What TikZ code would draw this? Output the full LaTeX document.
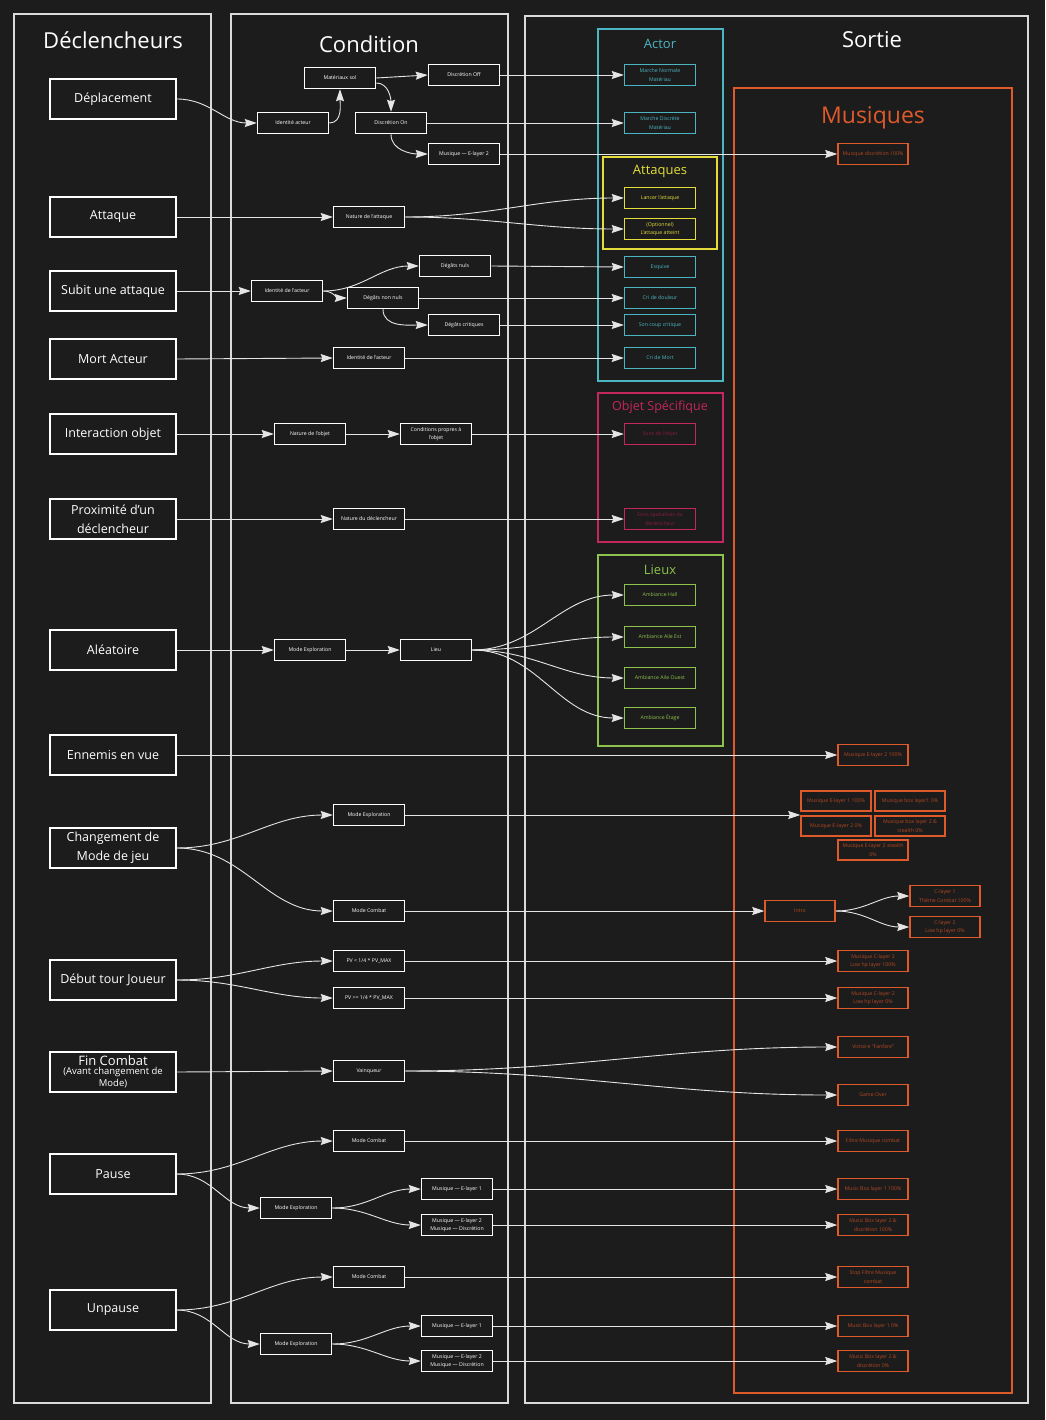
\documentclass[tikz,border=0pt]{standalone}
\usepackage{fontspec}
\setmainfont{Open Sans}
\usepackage{xcolor}
\usetikzlibrary{arrows.meta, positioning}
\definecolor{BgDark}{HTML}{1C1C1C}
\definecolor{PanelGrey}{HTML}{DADADA}
\definecolor{ActorCyan}{HTML}{4BB5C1}
\definecolor{HitYellow}{HTML}{E3DC3B}
\definecolor{ObjCrimson}{HTML}{C4265E}
\definecolor{PlaceGreen}{HTML}{8DC24C}
\definecolor{MusicOrange}{HTML}{DE5A2B}

\tikzset{
  panel/.style={draw=PanelGrey, line width=2pt},
  group/.style={draw=#1, line width=1.8pt},
  coltitle/.style={text=white, font=\fontsize{22}{24}\selectfont},
  grouptitle/.style={text=#1, font=\fontsize{13}{15}\selectfont},
  trig/.style={draw=white, line width=1.8pt, minimum width=126pt, minimum height=40pt,
               text=white, align=center, inner sep=2pt, font=\fontsize{12.5}{19}\selectfont},
  cond/.style={draw=white, line width=1.5pt, minimum width=71pt, minimum height=21pt,
               text=white, align=center, inner sep=1pt, font=\fontsize{5.2}{8.5}\selectfont},
  outbox/.style={cond, draw=#1, text=#1},
  mus/.style={outbox=MusicOrange, text=MusicOrange!80!black, minimum width=70pt},
  flow/.style={draw=white!90!black, line width=0.9pt,
               -{Stealth[length=12pt, width=8pt, inset=1.5pt]}},
}

\begin{document}
\begin{tikzpicture}[x=1pt, y=-1pt]
\fill[BgDark] (0,0) rectangle (1045,1420);
\useasboundingbox (0,0) rectangle (1045,1420);

% columns
\draw[panel] (14,14) rectangle (211,1403);
\draw[panel] (231,14) rectangle (508,1403);
\draw[panel] (525,16) rectangle (1028,1403);
\node[coltitle] (tDecl) at (113,40) {Déclencheurs};
\node[coltitle] (tCond) at (369,44) {Condition};
\node[coltitle] (tSortie) at (872,40) {Sortie};

% output groups
\draw[group=ActorCyan] (598,29) rectangle (723,381);
\draw[group=HitYellow] (603,157) rectangle (717,249);
\draw[group=ObjCrimson] (598,393) rectangle (723,542);
\draw[group=PlaceGreen] (598,555) rectangle (723,746);
\draw[group=MusicOrange] (734,88) rectangle (1012,1393);
\node[grouptitle=ActorCyan] (tActor) at (660,44) {Actor};
\node[grouptitle=HitYellow] (tAttaques) at (660,171) {Attaques};
\node[grouptitle=ObjCrimson, font=\fontsize{12.5}{15}\selectfont] (tObjet) at (660,407) {Objet Spécifique};
\node[grouptitle=PlaceGreen] (tLieux) at (660,570) {Lieux};
\node[grouptitle=MusicOrange, font=\fontsize{23}{25}\selectfont] (tMusiques) at (873,118) {Musiques};

% triggers
\node[trig] (deplacement) at (113,99) {Déplacement};
\node[trig] (attaque) at (113,217) {Attaque};
\node[trig] (subit) at (113,291) {Subit une attaque};
\node[trig] (mort) at (113,359) {Mort Acteur};
\node[trig] (interaction) at (113,434) {Interaction objet};
\node[trig] (proximite) at (113,519) {Proximité d'un\\déclencheur};
\node[trig] (aleatoire) at (113,650) {Aléatoire};
\node[trig] (ennemis) at (113,755) {Ennemis en vue};
\node[trig] (changement) at (113,848) {Changement de\\Mode de jeu};
\node[trig] (debut) at (113,980) {Début tour Joueur};
\node[trig, font=\fontsize{13}{19}\selectfont, inner sep=0pt] (fin) at (113,1072)
  {Fin Combat\\[-9.5pt]{\fontsize{9.5}{12}\selectfont (Avant changement de}\\[-7pt]{\fontsize{9.5}{12}\selectfont Mode)}};
\node[trig] (pause) at (113,1174) {Pause};
\node[trig] (unpause) at (113,1310) {Unpause};

% conditions
\node[cond] (idActeur) at (293,123) {Identité acteur};
\node[cond] (materiaux) at (340,78) {Matériaux sol};
\node[cond] (discOff) at (464,75) {Discrétion Off};
\node[cond] (discOn) at (391,123) {Discrétion On};
\node[cond] (musE2) at (464,154) {Musique — E-layer 2};
\node[cond] (natAttaque) at (369,217) {Nature de l'attaque};
\node[cond] (idSubit) at (287,291) {Identité de l'acteur};
\node[cond] (degNuls) at (455,266) {Dégâts nuls};
\node[cond] (degNonNuls) at (383,298) {Dégâts non nuls};
\node[cond] (degCrit) at (464,325) {Dégâts critiques};
\node[cond] (idMort) at (369,358) {Identité de l'acteur};
\node[cond] (natObjet) at (310,434) {Nature de l'objet};
\node[cond] (condObjet) at (436,434) {Conditions propres à\\l'objet};
\node[cond] (natDecl) at (369,519) {Nature du déclencheur};
\node[cond] (explAlea) at (310,650) {Mode Exploration};
\node[cond] (lieu) at (436,650) {Lieu};
\node[cond] (explChg) at (369,815) {Mode Exploration};
\node[cond] (combatChg) at (369,911) {Mode Combat};
\node[cond] (pvLow) at (369,961) {PV < 1/4 * PV\_MAX};
\node[cond] (pvHigh) at (369,998) {PV >= 1/4 * PV\_MAX};
\node[cond] (vainqueur) at (369,1071) {Vainqueur};
\node[cond] (combatP) at (369,1141) {Mode Combat};
\node[cond] (explP) at (296,1208) {Mode Exploration};
\node[cond] (eOneP) at (457,1189) {Musique — E-layer 1};
\node[cond] (eTwoP) at (457,1225) {Musique — E-layer 2\\Musique — Discrétion};
\node[cond] (combatU) at (369,1277) {Mode Combat};
\node[cond] (explU) at (296,1344) {Mode Exploration};
\node[cond] (eOneU) at (457,1326) {Musique — E-layer 1};
\node[cond] (eTwoU) at (457,1361) {Musique — E-layer 2\\Musique — Discrétion};

% actor outputs
\node[outbox=ActorCyan] (marcheN) at (660,75) {Marche Normale\\Matériau};
\node[outbox=ActorCyan] (marcheD) at (660,123) {Marche Discrète\\Matériau};
\node[outbox=HitYellow] (lancer) at (660,198) {Lancer l'attaque};
\node[outbox=HitYellow] (atteint) at (660,229) {(Optionnel)\\L'attaque atteint};
\node[outbox=ActorCyan] (esquive) at (660,267) {Esquive};
\node[outbox=ActorCyan] (douleur) at (660,298) {Cri de douleur};
\node[outbox=ActorCyan] (critique) at (660,325) {Son coup critique};
\node[outbox=ActorCyan] (criMort) at (660,358) {Cri de Mort};
\node[outbox=ObjCrimson, text=ObjCrimson!70!black] (sonsObjet) at (660,434) {Sons de l'objet};
\node[outbox=ObjCrimson, text=ObjCrimson!70!black] (sonsSpat) at (660,519) {Sons spatialisés du\\déclencheur};
\node[outbox=PlaceGreen] (ambHall) at (660,595) {Ambiance Hall};
\node[outbox=PlaceGreen] (ambEst) at (660,637) {Ambiance Aile Est};
\node[outbox=PlaceGreen] (ambOuest) at (660,678) {Ambiance Aile Ouest};
\node[outbox=PlaceGreen] (ambEtage) at (660,718) {Ambiance Étage};

% music outputs
\node[mus] (mDisc) at (873,154) {Musique discrétion 100\%};
\node[mus] (mE2) at (873,755) {Musique E-layer 2 100\%};
\node[mus, minimum height=20pt] (g1) at (836,801) {Musique E-layer 1 100\%};
\node[mus, minimum height=20pt] (g2) at (910,801) {Musique box layer1 0\%};
\node[mus, minimum height=20pt] (g3) at (836,826) {Musique E-layer 2 0\%};
\node[mus, minimum height=20pt] (g4) at (910,826) {Musique box layer 2 \&\\stealth 0\%};
\node[mus, minimum height=20pt] (g5) at (873,850) {Musique E-layer 2 stealth\\0\%};
\node[mus] (intro) at (800,911) {Intro};
\node[mus] (cOne) at (945,896) {C-layer 1\\Thème Combat 100\%};
\node[mus] (cTwo) at (945,927) {C-layer 2\\Low hp layer 0\%};
\node[mus] (mcLow) at (873,961) {Musique C-layer 2\\Low hp layer 100\%};
\node[mus] (mcHigh) at (873,998) {Musique C-layer 2\\Low hp layer 0\%};
\node[mus] (victoire) at (873,1047) {Victoire ``Fanfare''};
\node[mus] (gameOver) at (873,1095) {Game Over};
\node[mus] (mbCombatP) at (873,1141) {Filtre Musique combat};
\node[mus] (mbOneP) at (873,1189) {Music Box layer 1 100\%};
\node[mus] (mbTwoP) at (873,1225) {Music Box layer 2 \&\\discrétion 100\%};
\node[mus] (mbCombatU) at (873,1277) {Stop Filtre Musique\\combat};
\node[mus] (mbOneU) at (873,1326) {Music Box layer 1 0\%};
\node[mus] (mbTwoU) at (873,1361) {Music Box layer 2 \&\\discrétion 0\%};

% connectors
\draw[flow] (deplacement.east) to[out=0,in=180] (idActeur.west);
\draw[flow] (idActeur.east) to[out=0,in=-90] (materiaux.south);
\draw[flow] (materiaux.east) -- (discOff.west);
\draw[flow] ([yshift=-5pt]materiaux.east) to[out=0,in=90] (discOn.north);
\draw[flow] (discOff.east) -- (marcheN.west);
\draw[flow] (discOn.east) -- (marcheD.west);
\draw[flow] (discOn.south) to[out=-90,in=180] (musE2.west);
\draw[flow] (musE2.east) -- (mDisc.west);
\draw[flow] (attaque.east) -- (natAttaque.west);
\draw[flow] (natAttaque.east) to[out=0,in=180] (lancer.west);
\draw[flow] (natAttaque.east) to[out=0,in=180] (atteint.west);
\draw[flow] (subit.east) -- (idSubit.west);
\draw[flow] (idSubit.east) to[out=0,in=180] (degNuls.west);
\draw[flow] (idSubit.east) to[out=0,in=180] (degNonNuls.west);
\draw[flow] (degNonNuls.south) to[out=-90,in=180] (degCrit.west);
\draw[flow] (degNuls.east) -- (esquive.west);
\draw[flow] (degNonNuls.east) -- (douleur.west);
\draw[flow] (degCrit.east) -- (critique.west);
\draw[flow] (mort.east) -- (idMort.west);
\draw[flow] (idMort.east) -- (criMort.west);
\draw[flow] (interaction.east) -- (natObjet.west);
\draw[flow] (natObjet.east) -- (condObjet.west);
\draw[flow] (condObjet.east) -- (sonsObjet.west);
\draw[flow] (proximite.east) -- (natDecl.west);
\draw[flow] (natDecl.east) -- (sonsSpat.west);
\draw[flow] (aleatoire.east) -- (explAlea.west);
\draw[flow] (explAlea.east) -- (lieu.west);
\foreach \amb in {ambHall, ambEst, ambOuest, ambEtage}
  \draw[flow] (lieu.east) to[out=0,in=180] (\amb.west);
\draw[flow] (ennemis.east) -- (mE2.west);
\draw[flow] (changement.east) to[out=0,in=180] (explChg.west);
\draw[flow] (changement.east) to[out=0,in=180] (combatChg.west);
\draw[flow] (explChg.east) -- (explChg.east -| g1.west);
\draw[flow] (combatChg.east) -- (intro.west);
\draw[flow] (intro.east) to[out=0,in=180] (cOne.west);
\draw[flow] (intro.east) to[out=0,in=180] (cTwo.west);
\draw[flow] (debut.east) to[out=0,in=180] (pvLow.west);
\draw[flow] (debut.east) to[out=0,in=180] (pvHigh.west);
\draw[flow] (pvLow.east) -- (mcLow.west);
\draw[flow] (pvHigh.east) -- (mcHigh.west);
\draw[flow] (fin.east) -- (vainqueur.west);
\draw[flow] (vainqueur.east) to[out=0,in=180] (victoire.west);
\draw[flow] (vainqueur.east) to[out=0,in=180] (gameOver.west);
% pause / unpause share the same layout
\foreach \src/\k in {pause/P, unpause/U} {
  \draw[flow] (\src.east) to[out=0,in=180] (combat\k.west);
  \draw[flow] (\src.east) to[out=0,in=180] (expl\k.west);
  \draw[flow] (expl\k.east) to[out=0,in=180] (eOne\k.west);
  \draw[flow] (expl\k.east) to[out=0,in=180] (eTwo\k.west);
  \draw[flow] (combat\k.east) -- (mbCombat\k.west);
  \draw[flow] (eOne\k.east) -- (mbOne\k.west);
  \draw[flow] (eTwo\k.east) -- (mbTwo\k.west);
}
\end{tikzpicture}
\end{document}
